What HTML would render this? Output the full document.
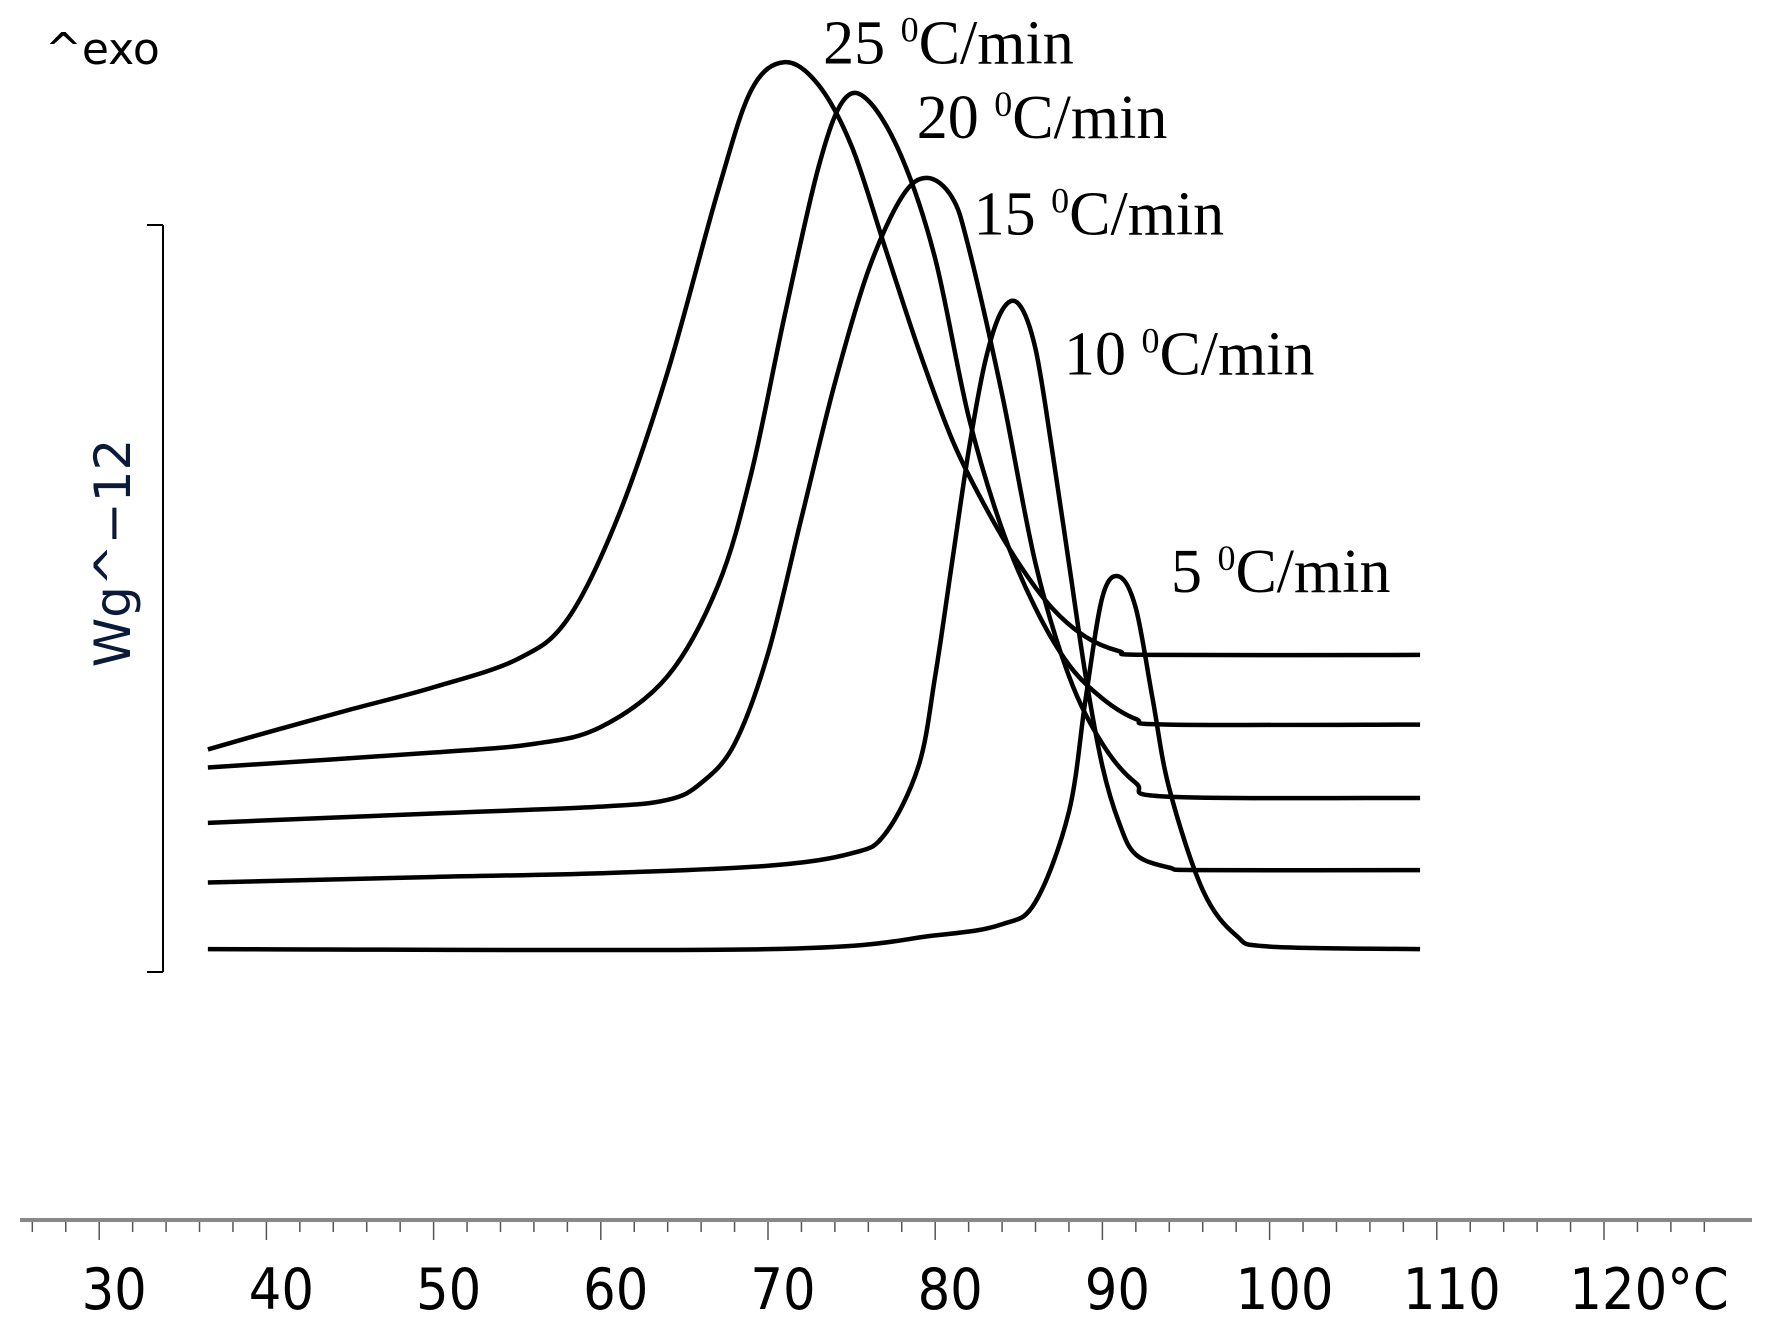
<!DOCTYPE html>
<html><head><meta charset="utf-8"><style>
html,body{margin:0;padding:0;background:#fff;}
svg{display:block;}
</style></head><body>
<svg id="chart" width="1767" height="1332" viewBox="0 0 1767 1332" xmlns="http://www.w3.org/2000/svg">
<text x="45" y="64" font-family="DejaVu Sans, Liberation Sans, sans-serif" font-size="44" fill="#000">^exo</text>
<g stroke="#000" stroke-width="2" fill="none">
<line x1="163" y1="225" x2="163" y2="972"/>
<line x1="147" y1="225" x2="163" y2="225"/>
<line x1="147" y1="972" x2="163" y2="972"/>
</g>
<text transform="translate(130,553) rotate(-90)" text-anchor="middle" font-family="DejaVu Sans, Liberation Sans, sans-serif" font-size="50" fill="#0b1a3a">Wg^−12</text>
<g id="axis"></g>
<g id="curves"></g>
<g id="labels"></g>
</svg>
<script>
const xTicks = [30,40,50,60,70,80,90,100,110,120];
const xTickLabels = ["30","40","50","60","70","80","90","100","110","120°C"];
const seriesNames = ["5 ⁰C/min","10 ⁰C/min","15 ⁰C/min","20 ⁰C/min","25 ⁰C/min"];
const rateValues = ["5","10","15","20","25"];
const temps5  = [36.5,70,80,84,86,88,89,90,91,92,93,94,96,98,100,109];
const vals5   = [0.36,0.36,0.58,0.76,1.12,2.57,4.39,6.02,6.35,5.84,4.39,2.94,1.31,0.58,0.40,0.36];
const temps10 = [36.5,50,60,70,75,77,79,80,81,82,83,84,85,86,87,88,89,90,91,92,94,96,109];
const vals10  = [1.43,1.52,1.58,1.70,1.90,2.21,3.30,4.75,6.56,8.37,9.82,10.63,10.73,10.01,8.37,6.56,4.75,3.30,2.39,1.88,1.67,1.63,1.63];
const temps15 = [36.5,50,60,64,66,68,70,72,74,76,78,79.5,81,82,84,86,88,90,92,94,109];
const vals15  = [2.39,2.54,2.65,2.76,3.03,3.66,5.11,7.29,9.46,11.27,12.45,12.76,12.45,11.64,9.28,6.56,4.75,3.66,3.03,2.81,2.79];
const temps20 = [36.5,50,56,60,64,67,69,71,73,74.5,76,78,80,82,84,86,88,90,92,94,109];
const vals20  = [3.28,3.52,3.66,3.93,4.75,6.20,8.01,10.55,12.91,14.00,14.00,13.09,11.46,8.92,7.11,5.84,4.93,4.39,4.06,3.97,3.97];
const temps25 = [36.5,40,45,50,55,58,61,64,67,69,71,73,75,77,79,81,83,85,87,89,91,93,109];
const vals25  = [3.57,3.84,4.21,4.57,5.02,5.66,7.29,9.64,12.54,14.17,14.62,14.26,13.27,11.64,10.01,8.56,7.47,6.56,5.84,5.38,5.15,5.09,5.09];
const allTemps = [temps5,temps10,temps15,temps20,temps25];
const allVals = [vals5,vals10,vals15,vals20,vals25];
const labelT = [94.1,87.7,82.3,78.9,73.3];
const labelV = [6.1,9.6,11.85,13.4,14.6];

const NS="http://www.w3.org/2000/svg";
function xs(t){ return 99.2 + (t-30)*16.72; }
function ys(v){ return 971.5 - v*62.2; }

const axis=document.getElementById('axis');
const axLine=document.createElementNS(NS,'line');
axLine.setAttribute('x1',20);axLine.setAttribute('x2',1752);
axLine.setAttribute('y1',1220);axLine.setAttribute('y2',1220);
axLine.setAttribute('stroke','#888');axLine.setAttribute('stroke-width','4');


axis.appendChild(axLine);
for(let t=26;t<=126;t+=2){
  const x=xs(t); if(x<22||x>1752) continue;
  const major=(t%10===0);
  const l=document.createElementNS(NS,'line');
  l.setAttribute('x1',x);l.setAttribute('x2',x);
  l.setAttribute('y1',1222);l.setAttribute('y2',major?1240:1232);
  l.setAttribute('stroke','#555');l.setAttribute('stroke-width','1.5');
  
  
  axis.appendChild(l);
}
xTicks.forEach((t,i)=>{
  const tx=document.createElementNS(NS,'text');
  tx.setAttribute('x',xs(t)+(i===9?45:15));tx.setAttribute('y',1309);
  tx.setAttribute('text-anchor','middle');
  tx.setAttribute('font-family','DejaVu Sans Condensed, Liberation Sans, sans-serif');
  tx.setAttribute('font-size','57');tx.setAttribute('fill','#000');
  tx.textContent=xTickLabels[i];
  
  
  axis.appendChild(tx);
});

function pathFrom(pts){
  let d='M'+pts[0][0]+','+pts[0][1];
  for(let i=0;i<pts.length-1;i++){
    const p0=pts[Math.max(0,i-1)],p1=pts[i],p2=pts[i+1],p3=pts[Math.min(pts.length-1,i+2)];
    const c1x=p1[0]+(p2[0]-p0[0])/6,c1y=p1[1]+(p2[1]-p0[1])/6;
    const c2x=p2[0]-(p3[0]-p1[0])/6,c2y=p2[1]-(p3[1]-p1[1])/6;
    d+=' C'+c1x+','+c1y+' '+c2x+','+c2y+' '+p2[0]+','+p2[1];
  }
  return d;
}
const curves=document.getElementById('curves');
allTemps.forEach((ts,k)=>{
  const pts=ts.map((t,i)=>[xs(t),ys(allVals[k][i])]);
  const p=document.createElementNS(NS,'path');
  p.setAttribute('d',pathFrom(pts));
  p.setAttribute('fill','none');p.setAttribute('stroke','#000');
  p.setAttribute('stroke-width','4.5');p.setAttribute('stroke-linejoin','round');
  
  
  curves.appendChild(p);
});
const labels=document.getElementById('labels');
rateValues.forEach((r,k)=>{
  const tx=document.createElementNS(NS,'text');
  tx.setAttribute('x',xs(labelT[k]));tx.setAttribute('y',ys(labelV[k]));
  tx.setAttribute('font-family','Liberation Serif, serif');
  tx.setAttribute('font-size','62');tx.setAttribute('fill','#000');
  const a=document.createElementNS(NS,'tspan');a.textContent=r+' ';
  const b=document.createElementNS(NS,'tspan');b.textContent='0';
  b.setAttribute('font-size','36');b.setAttribute('dy','-22');
  const c=document.createElementNS(NS,'tspan');c.textContent='C/min';
  c.setAttribute('dy','22');
  tx.appendChild(a);tx.appendChild(b);tx.appendChild(c);
  
  
  labels.appendChild(tx);
});
</script>
</body></html>
